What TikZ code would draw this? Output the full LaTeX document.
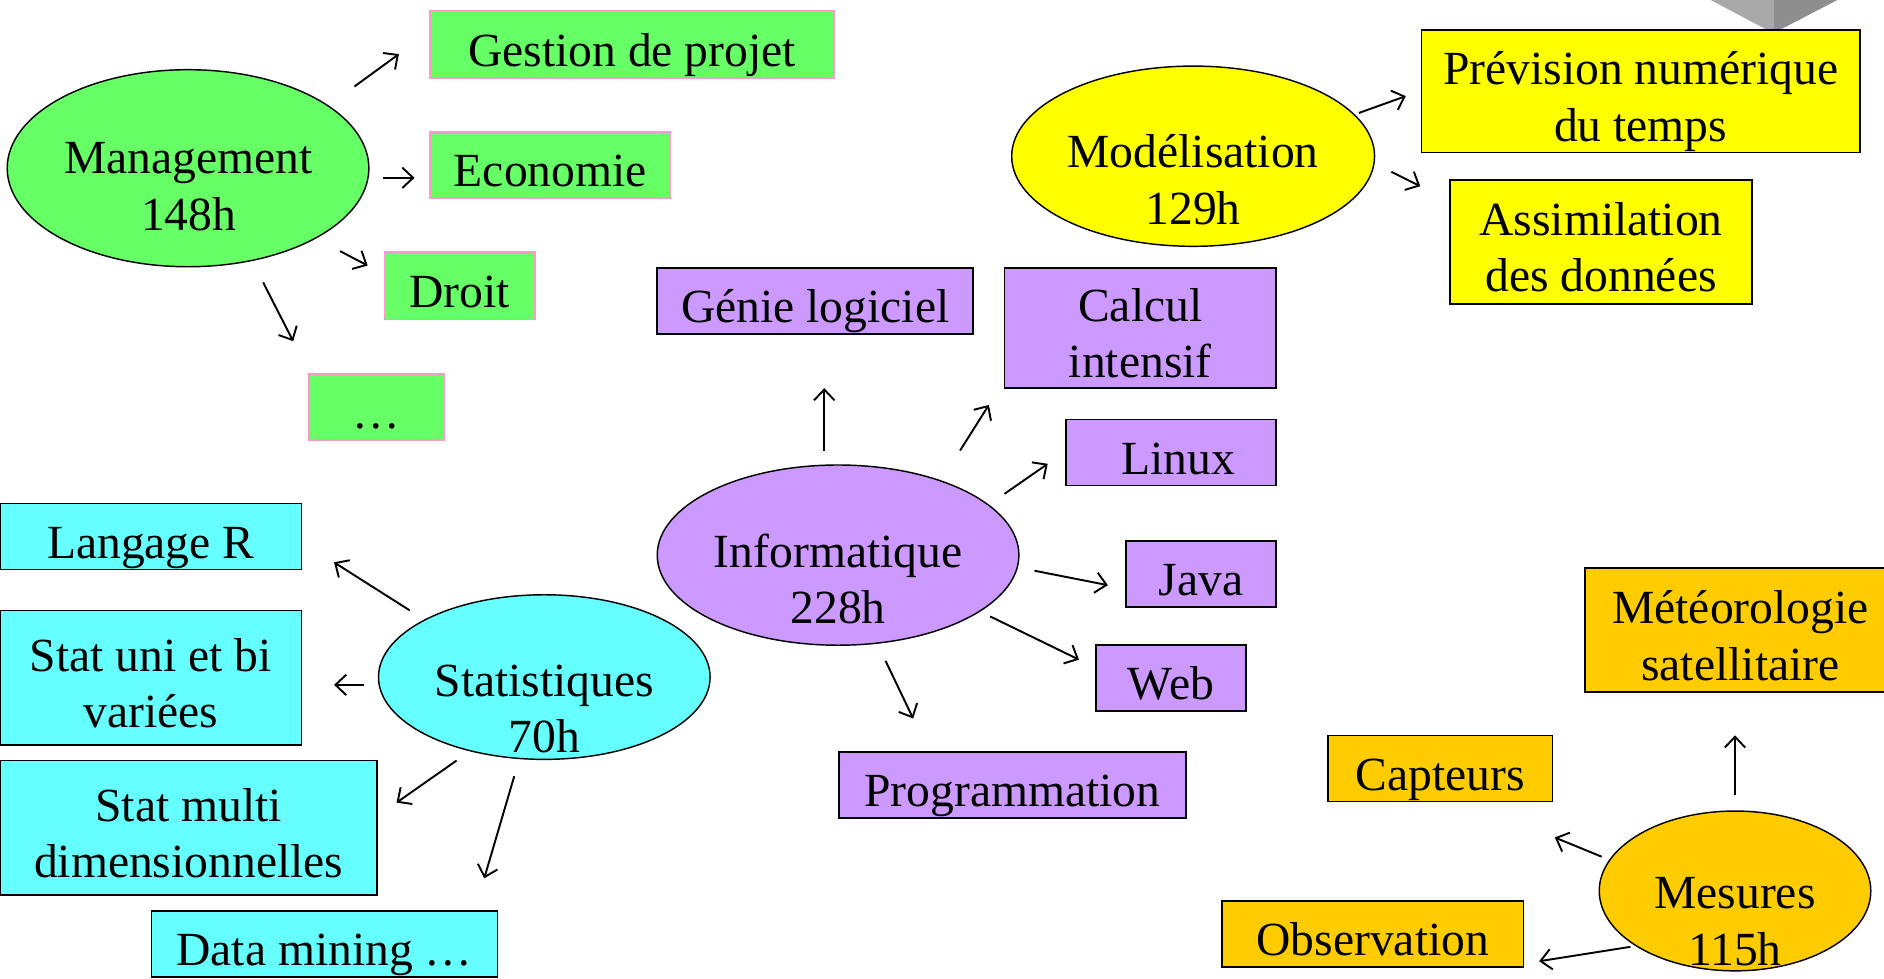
\documentclass[tikz,border=0pt]{standalone}
\usepackage{fontspec}
\setmainfont{Liberation Serif}
\usetikzlibrary{shapes.geometric,arrows.meta}
\definecolor{mgreen}{HTML}{66FF66}
\definecolor{mpink}{HTML}{FF99CC}
\definecolor{mcyan}{HTML}{66FFFF}
\definecolor{mpurple}{HTML}{CC99FF}
\definecolor{myellow}{HTML}{FFFF00}
\definecolor{morange}{HTML}{FFCC00}
\definecolor{grayL}{HTML}{A8A8A8}
\definecolor{grayD}{HTML}{8E8E8E}
\begin{document}
\begin{tikzpicture}[x=1pt,y=-1pt,
  txt/.style={font=\fontsize{39.6pt}{47pt}\selectfont, align=center, inner sep=0pt},
  box/.style={txt, draw=black, line width=1.4pt, text height=40pt, text depth=4pt},
  two/.style={text height=87pt, text depth=4pt},
  gbox/.style={box, fill=mgreen, draw=mpink},
  ybox/.style={box, fill=myellow},
  pbox/.style={box, fill=mpurple},
  cbox/.style={box, fill=mcyan},
  obox/.style={box, fill=morange},
  ell/.style={ellipse, draw=black, line width=1.2pt, inner sep=0pt},
  lab/.style={txt, text height=87pt, text depth=8pt},
  arr/.style={-{Straight Barb[length=9pt,width=17pt]}, line width=1.6pt},
]
\useasboundingbox (0,0) rectangle (1568,814);
\fill[white] (0,0) rectangle (1568,814);

% gray shape at top right
\fill[grayL] (1420,-2) -- (1476,-2) -- (1476,24) -- (1469,24) -- cycle;
\fill[grayD] (1476,-2) -- (1533,-2) -- (1483,24) -- (1476,24) -- cycle;

% Management
\node[ell, fill=mgreen, minimum width=301pt, minimum height=164pt] (mgmt) at (156.5,140) {};
\node[lab] (mgmtT) at (157,152) {Management\\148h};
\node[gbox, minimum width=336pt, minimum height=56pt] (gest) at (526,37) {Gestion de projet};
\node[gbox, minimum width=200pt, minimum height=55pt] (eco) at (458,137.5) {Economie};
\node[gbox, minimum width=125pt, minimum height=56pt] (droit) at (382.5,238) {Droit};
\node[gbox, minimum width=113pt, minimum height=55pt] (dots) at (313.5,338.5) {…};
\coordinate (m1s) at (295,72);  \coordinate (m1e) at (332,45);
\coordinate (m2s) at (319,148); \coordinate (m2e) at (345,148);
\coordinate (m3s) at (283,209); \coordinate (m3e) at (306,221);
\coordinate (m4s) at (219,235); \coordinate (m4e) at (244,284);
\draw[arr] (m1s) -- (m1e);
\draw[arr] (m2s) -- (m2e);
\draw[arr] (m3s) -- (m3e);
\draw[arr] (m4s) -- (m4e);

% Modelisation
\node[ell, fill=myellow, minimum width=302pt, minimum height=150pt] (mod) at (993,130) {};
\node[lab] (modT) at (993,147) {Modélisation\\129h};
\node[ybox, two, minimum width=365pt, minimum height=102pt] (prev) at (1365.5,76) {Prévision numérique\\du temps};
\node[ybox, two, minimum width=251pt, minimum height=103pt] (assim) at (1332.5,201.5) {Assimilation\\des données};
\coordinate (d1s) at (1131,94);  \coordinate (d1e) at (1170,80);
\coordinate (d2s) at (1158,143); \coordinate (d2e) at (1182,155);
\draw[arr] (d1s) -- (d1e);
\draw[arr] (d2s) -- (d2e);

% Informatique
\node[ell, fill=mpurple, minimum width=301pt, minimum height=150pt] (info) at (697.5,462) {};
\node[lab] (infoT) at (697.5,479.5) {Informatique\\228h};
\node[pbox, minimum width=263pt, minimum height=55pt] (genie) at (678.5,250.5) {Génie logiciel};
\node[pbox, two, minimum width=226pt, minimum height=100pt] (calc) at (949,273) {Calcul\\intensif};
\node[pbox, minimum width=175pt, minimum height=55pt] (linux) at (974.5,376.5) {\hspace*{12pt}Linux};
\node[pbox, minimum width=125pt, minimum height=55pt] (java) at (999.5,477.5) {Java};
\node[pbox, minimum width=125pt, minimum height=55pt] (web) at (974.5,564.5) {Web};
\node[pbox, minimum width=289pt, minimum height=55pt] (prog) at (842.5,653.5) {Programmation};
\coordinate (i1s) at (686,375); \coordinate (i1e) at (686,323);
\coordinate (i2s) at (799,375); \coordinate (i2e) at (823,337);
\coordinate (i3s) at (836,411); \coordinate (i3e) at (872,386);
\coordinate (i4s) at (861,475); \coordinate (i4e) at (922,487);
\coordinate (i5s) at (824,513); \coordinate (i5e) at (898,549);
\coordinate (i6s) at (737,550); \coordinate (i6e) at (760,598);
\draw[arr] (i1s) -- (i1e);
\draw[arr] (i2s) -- (i2e);
\draw[arr] (i3s) -- (i3e);
\draw[arr] (i4s) -- (i4e);
\draw[arr] (i5s) -- (i5e);
\draw[arr] (i6s) -- (i6e);

% Statistiques
\node[ell, fill=mcyan, minimum width=276pt, minimum height=137pt] (stat) at (453,563.5) {};
\node[lab] (statT) at (453,587) {Statistiques\\70h};
\node[cbox, minimum width=251pt, minimum height=55pt] (langr) at (125.5,446.5) {Langage R};
\node[cbox, two, minimum width=251pt, minimum height=112pt] (uni) at (125.5,564) {Stat uni et bi\\variées};
\node[cbox, two, minimum width=314pt, minimum height=112pt] (multi) at (157,689) {Stat multi\\dimensionnelles};
\node[cbox, minimum width=288pt, minimum height=55pt] (dm) at (270,785.5) {Data mining …};
\coordinate (s1s) at (341,508); \coordinate (s1e) at (278,468);
\coordinate (s2s) at (303,570); \coordinate (s2e) at (278,570);
\coordinate (s3s) at (380,633); \coordinate (s3e) at (330,668);
\coordinate (s4s) at (428,646); \coordinate (s4e) at (403,731);
\draw[arr] (s1s) -- (s1e);
\draw[arr] (s2s) -- (s2e);
\draw[arr] (s3s) -- (s3e);
\draw[arr] (s4s) -- (s4e);

% Mesures
\node[ell, fill=morange, minimum width=226pt, minimum height=133pt] (mes) at (1444,741.5) {};
\node[lab] (mesT) at (1444,764) {Mesures\\115h};
\node[obox, two, minimum width=259pt, minimum height=103pt] (meteo) at (1448.5,524.5) {Météorologie\\satellitaire\hspace*{0pt}};
\node[obox, minimum width=187pt, minimum height=55pt] (capt) at (1198.5,639.5) {Capteurs};
\node[obox, minimum width=251pt, minimum height=55pt] (obs) at (1142.5,777.5) {Observation};
\coordinate (e1s) at (1444,662); \coordinate (e1e) at (1444,612);
\coordinate (e2s) at (1333,713); \coordinate (e2e) at (1294,697);
\coordinate (e3s) at (1357,788); \coordinate (e3e) at (1281,800);
\draw[arr] (e1s) -- (e1e);
\draw[arr] (e2s) -- (e2e);
\draw[arr] (e3s) -- (e3e);
\end{tikzpicture}
\end{document}
